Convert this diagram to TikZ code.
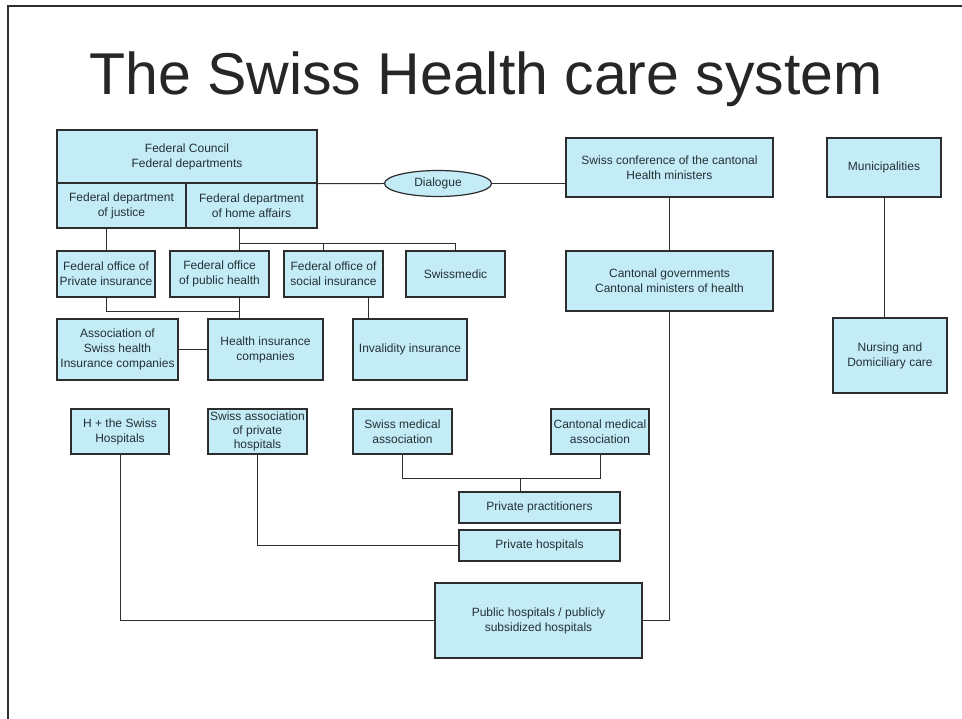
\documentclass[tikz,border=0pt]{standalone}
\usepackage{fontspec}
\setmainfont{Liberation Sans}
\usetikzlibrary{shapes.geometric}
\definecolor{boxfill}{RGB}{196,236,247}
\definecolor{boxline}{RGB}{45,45,45}
\definecolor{boxtext}{RGB}{35,48,54}
\definecolor{titlegrey}{RGB}{38,38,38}
\begin{document}
\begin{tikzpicture}[x=1pt,y=-1pt,
  box/.style={draw=boxline,line width=1.2pt,fill=boxfill,text=boxtext,inner sep=0pt,align=center,
    font=\fontsize{12}{15}\selectfont},
  link/.style={draw=boxline,line width=1pt}]
\useasboundingbox (0,0) rectangle (962,719);
\fill[white] (0,0) rectangle (962,719);
\draw [boxline,line width=1.5pt] (8,719) -- (8,6) -- (962,6);

\node [anchor=base,text=titlegrey,font=\fontsize{59}{59}\selectfont] (title) at (486,95) {The Swiss Health care system};

% federal level
\node [box,minimum width=260,minimum height=53] (fedcouncil) at (187,156.5) {Federal Council\\Federal departments};
\node [box,minimum width=129,minimum height=45] (justice) at (121.5,205.5) {Federal department\\of justice};
\node [box,minimum width=131,minimum height=45] (home) at (251.5,205.5) {Federal department\\of home affairs};
\node [box,ellipse,minimum width=107,minimum height=26] (dialogue) at (438,183.5) {Dialogue};

% cantons and municipalities
\node [box,minimum width=207,minimum height=59] (swissconf) at (669.5,167.5) {Swiss conference of the cantonal\\Health ministers};
\node [box,minimum width=114,minimum height=59] (munic) at (884,167.5) {Municipalities};
\node [box,minimum width=207,minimum height=60] (cantgov) at (669.5,281) {Cantonal governments\\Cantonal ministers of health};
\node [box,minimum width=114,minimum height=75] (nursing) at (890,355.5) {Nursing and\\Domiciliary care};

% federal offices
\node [box,minimum width=98,minimum height=46] (fopi) at (106,274) {Federal office of\\Private insurance};
\node [box,minimum width=99,minimum height=46] (foph) at (219.5,274) {Federal office\\of public health};
\node [box,minimum width=99,minimum height=46] (fosi) at (333.5,274) {Federal office of\\social insurance};
\node [box,minimum width=99,minimum height=46] (swissmedic) at (455.5,274) {Swissmedic};

% insurance
\node [box,minimum width=121,minimum height=61] (assoc) at (117.5,349.5) {Association of\\Swiss health\\Insurance companies};
\node [box,minimum width=115,minimum height=61] (hic) at (265.5,349.5) {Health insurance\\companies};
\node [box,minimum width=114,minimum height=61] (invalid) at (410,349.5) {Invalidity insurance};

% providers
\node [box,minimum width=98,minimum height=45] (hplus) at (120,431.5) {H + the Swiss\\Hospitals};
\node [box,minimum width=99,minimum height=45,font=\fontsize{12}{14}\selectfont] (privassoc) at (257.5,431.5) {Swiss association\\of private\\hospitals};
\node [box,minimum width=99,minimum height=45] (swissmed) at (402.5,431.5) {Swiss medical\\association};
\node [box,minimum width=98,minimum height=45] (cantmed) at (600,431.5) {Cantonal medical\\association};
\node [box,minimum width=161,minimum height=31] (practit) at (539.5,507.5) {Private practitioners};
\node [box,minimum width=161,minimum height=31] (privhosp) at (539.5,545.5) {Private hospitals};
\node [box,minimum width=207,minimum height=75] (public) at (538.5,620.5) {Public hospitals / publicly\\subsidized hospitals};

% connectors
\draw [link] (fedcouncil.south east) -- (dialogue.west);
\draw [link] (dialogue.east) -- (dialogue.east -| swissconf.west);
\draw [link] (swissconf.south) -- (cantgov.north);
\draw [link] (munic.south) -- (munic.south |- nursing.north);
\draw [link] (fopi.north) -- (fopi.north |- justice.south);
\draw [link] ([xshift=-12.5]home.south) -- ++(0,15) coordinate (bus) -| (swissmedic.north);
\draw [link] (bus) -- (bus |- foph.north);
\draw [link] ([xshift=-10.5]fosi.north) -- ([xshift=-10.5]fosi.north |- bus);
\draw [link] ([xshift=19.5]foph.south) -- ([xshift=19.5]foph.south |- hic.north);
\draw [link] (fopi.south) -- ++(0,14) -| ([xshift=19.5]foph.south);
\draw [link] (assoc.east) -- (hic.west);
\draw [link] ([xshift=34.5]fosi.south) -- ([xshift=34.5]fosi.south |- invalid.north);
\draw [link] (swissmed.south) -- ++(0,24) coordinate (medbus) -| (cantmed.south);
\draw [link] ([xshift=-19.5]practit.north) -- ([xshift=-19.5]practit.north |- medbus);
\draw [link] (privassoc.south) |- (privhosp.west);
\draw [link] (hplus.south) |- (public.west);
\draw [link] (cantgov.south) |- (public.east);

\end{tikzpicture}
\end{document}
